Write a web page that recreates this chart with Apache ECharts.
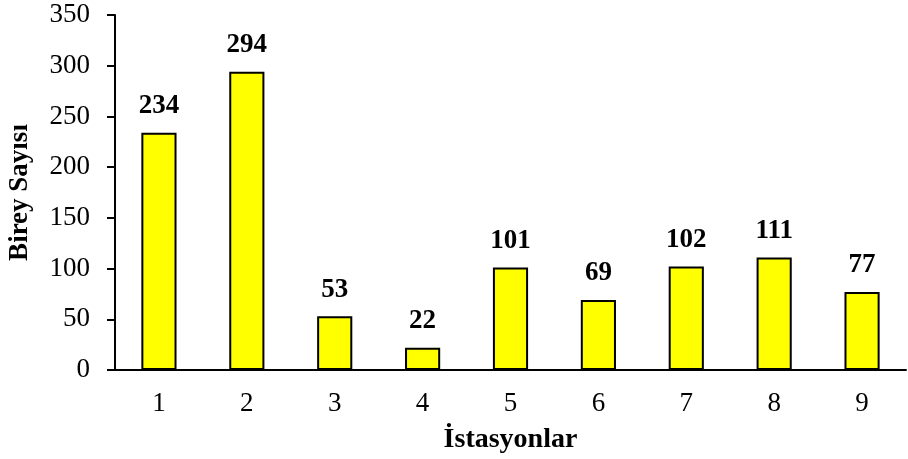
<!DOCTYPE html>
<html>
<head>
<meta charset="utf-8">
<script src="https://cdn.jsdelivr.net/npm/echarts@6/dist/echarts.min.js"></script>
<style>
  html, body { margin: 0; padding: 0; background: #fff; }
  #chart { width: 908px; height: 459px; }
</style>
</head>
<body>
<div id="chart"></div>
<script>
// istasyonlar ve birey sayilari
var categories = ["1", "2", "3", "4", "5", "6", "7", "8", "9"];
var values = [234, 294, 53, 22, 101, 69, 102, 111, 77];
var yTicks = [0, 50, 100, 150, 200, 250, 300, 350];

var font = "'Liberation Serif', 'Times New Roman', serif";
var chart = echarts.init(document.getElementById("chart"));

chart.setOption({
  animation: false,
  textStyle: { fontFamily: font },
  grid: { left: 115, right: 2, top: 15, bottom: 89, outerBoundsMode: "none" },
  xAxis: {
    type: "category",
    data: categories,
    name: "İstasyonlar",
    nameLocation: "middle",
    nameGap: 56,
    nameTextStyle: { fontFamily: font, fontSize: 28, fontWeight: "bold", color: "#000" },
    axisLine: { lineStyle: { color: "#000", width: 2 } },
    axisTick: { alignWithLabel: false, length: 8, lineStyle: { color: "#000", width: 2 } },
    axisLabel: { fontFamily: font, fontSize: 27, color: "#000", margin: 20 }
  },
  yAxis: {
    type: "value",
    min: yTicks[0],
    max: yTicks[yTicks.length - 1],
    interval: 50,
    name: "Birey Sayısı",
    nameLocation: "middle",
    nameGap: 81,
    nameTextStyle: { fontFamily: font, fontSize: 27, fontWeight: "bold", color: "#000" },
    axisLine: { show: true, lineStyle: { color: "#000", width: 2 } },
    axisTick: { show: true, length: 8, lineStyle: { color: "#000", width: 2 } },
    axisLabel: { fontFamily: font, fontSize: 27, color: "#000", margin: 25 },
    splitLine: { show: false }
  },
  series: [
    {
      type: "bar",
      data: values,
      barWidth: "40%",
      itemStyle: { color: "#ffff00", borderColor: "#000", borderWidth: 2 },
      label: {
        show: true,
        position: "top",
        distance: 13,
        fontFamily: font,
        fontSize: 27,
        fontWeight: "bold",
        color: "#000"
      }
    }
  ]
});
</script>
</body>
</html>
